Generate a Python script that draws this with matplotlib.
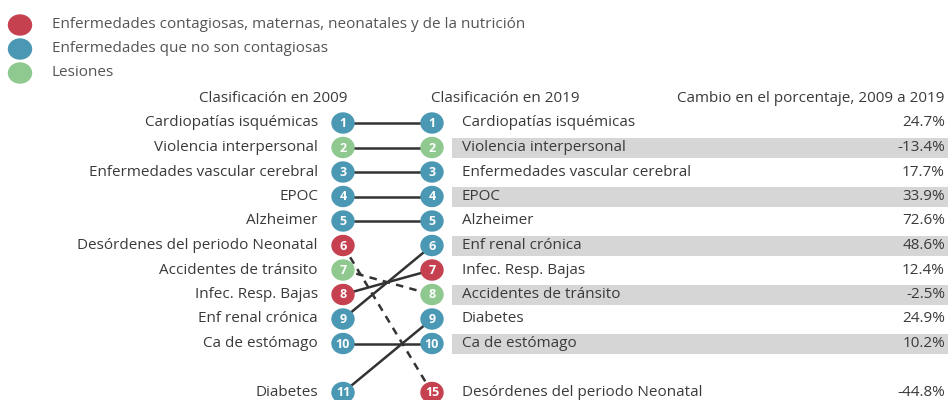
import matplotlib
matplotlib.use("Agg")
import matplotlib.pyplot as plt
from matplotlib.patches import Ellipse, Rectangle

plt.rcParams['font.family'] = ['Open Sans', 'DejaVu Sans']

# Datos
causas_2009 = ['Cardiopatías isquémicas', 'Violencia interpersonal', 'Enfermedades vascular cerebral',
               'EPOC', 'Alzheimer', 'Desórdenes del periodo Neonatal', 'Accidentes de tránsito',
               'Infec. Resp. Bajas', 'Enf renal crónica', 'Ca de estómago', 'Diabetes']
rango_2009 = [1, 2, 3, 4, 5, 6, 7, 8, 9, 10, 11]
grupo_2009 = ['nc', 'les', 'nc', 'nc', 'nc', 'cont', 'les', 'cont', 'nc', 'nc', 'nc']

causas_2019 = ['Cardiopatías isquémicas', 'Violencia interpersonal', 'Enfermedades vascular cerebral',
               'EPOC', 'Alzheimer', 'Enf renal crónica', 'Infec. Resp. Bajas', 'Accidentes de tránsito',
               'Diabetes', 'Ca de estómago', 'Desórdenes del periodo Neonatal']
rango_2019 = [1, 2, 3, 4, 5, 6, 7, 8, 9, 10, 15]
grupo_2019 = ['nc', 'les', 'nc', 'nc', 'nc', 'nc', 'cont', 'les', 'nc', 'nc', 'cont']
cambio = ['24.7%', '-13.4%', '17.7%', '33.9%', '72.6%', '48.6%', '12.4%', '-2.5%', '24.9%', '10.2%', '-44.8%']

leyenda = ['Enfermedades contagiosas, maternas, neonatales y de la nutrición',
           'Enfermedades que no son contagiosas', 'Lesiones']
colores = {'cont': '#C6414F', 'nc': '#4A98B3', 'les': '#8FC98F'}
orden_leyenda = ['cont', 'nc', 'les']

texto = '#3a3a3a'
fs = 11
x_izq, x_der = 343, 432
y0, paso = 123, 24.5


def fila(r):
    # los rangos mayores a 10 van debajo, dejando un hueco
    return y0 + ((r if r <= 10 else 12) - 1) * paso


fig = plt.figure(figsize=(9.48, 4.0), dpi=100)
ax = fig.add_axes([0, 0, 1, 1])
ax.set_xlim(0, 948)
ax.set_ylim(400, 0)
ax.axis('off')

# Leyenda
for i, g in enumerate(orden_leyenda):
    y = 25 + i * 24
    ax.add_patch(Ellipse((20, y), 23, 20, color=colores[g], zorder=3))
    ax.text(52, y, leyenda[i], fontsize=fs, color='#555555', va='center', ha='left')

# Encabezados
ax.text(273, 99, 'Clasificación en 2009', fontsize=fs, color=texto, ha='center', va='center')
ax.text(505, 99, 'Clasificación en 2019', fontsize=fs, color=texto, ha='center', va='center')
ax.text(945, 99, 'Cambio en el porcentaje, 2009 a 2019', fontsize=fs, color=texto, ha='right', va='center')

# Bandas grises
for r in rango_2019:
    if r <= 10 and r % 2 == 0:
        ax.add_patch(Rectangle((452, fila(r) - 10), 496, 20, color='#D6D6D6', zorder=0, lw=0))

# Líneas de conexión
for c, r in zip(causas_2009, rango_2009):
    r2 = rango_2019[causas_2019.index(c)]
    estilo = (0, (3, 2.5)) if r2 > r else '-'
    ax.plot([x_izq, x_der], [fila(r), fila(r2)], color='#333333', lw=1.8, ls=estilo, zorder=1)

# Columna 2009
for c, r, g in zip(causas_2009, rango_2009, grupo_2009):
    y = fila(r)
    ax.add_patch(Ellipse((x_izq, y), 22, 20, color=colores[g], zorder=3))
    ax.text(x_izq, y + 0.5, str(r), fontsize=9, color='white', fontweight='bold',
            ha='center', va='center', zorder=4)
    ax.text(318, y, c, fontsize=fs, color=texto, ha='right', va='center')

# Columna 2019
for c, r, g, v in zip(causas_2019, rango_2019, grupo_2019, cambio):
    y = fila(r)
    ax.add_patch(Ellipse((x_der, y), 22, 20, color=colores[g], zorder=3))
    ax.text(x_der, y + 0.5, str(r), fontsize=9, color='white', fontweight='bold',
            ha='center', va='center', zorder=4)
    ax.text(462, y, c, fontsize=fs, color=texto, ha='left', va='center')
    ax.text(945, y, v, fontsize=fs, color=texto, ha='right', va='center')

fig.savefig('out.png', dpi=100, facecolor='white')
